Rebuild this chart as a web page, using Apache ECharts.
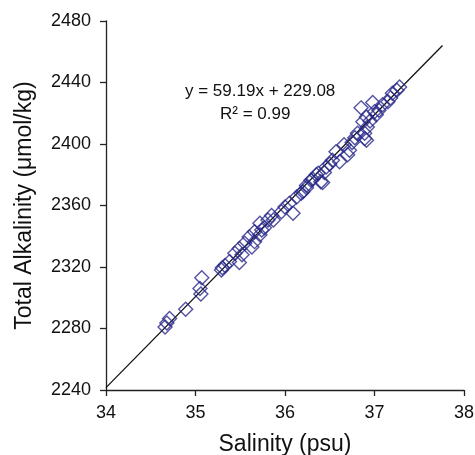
<!DOCTYPE html>
<html>
<head>
<meta charset="utf-8">
<script src="https://cdn.jsdelivr.net/npm/echarts@6/dist/echarts.min.js"></script>
<style>
  html, body { margin: 0; padding: 0; background: #fff; }
  #chart { width: 475px; height: 455px; }
</style>
</head>
<body>
<div id="chart"></div>
<script>
// Surface samples: salinity (psu) and total alkalinity (µmol/kg)
const salinity = [
  34.66, 34.68, 34.71, 34.89, 35.05, 35.06, 35.07, 35.29, 35.30, 35.33,
  35.38, 35.44, 35.49, 35.49, 35.52, 35.55, 35.60, 35.63, 35.66, 35.66,
  35.72, 35.72, 35.74, 35.77, 35.81, 35.85, 35.87, 35.96, 36.00, 36.05,
  36.09, 36.13, 36.18, 36.20, 36.24, 36.24, 36.29, 36.31, 36.35, 36.37,
  36.40, 36.42, 36.44, 36.46, 36.50, 36.53, 36.57, 36.61, 36.66, 36.70,
  36.72, 36.75, 36.78, 36.81, 36.85, 36.87, 36.89, 36.89, 36.91, 36.91,
  36.92, 36.95, 36.98, 37.00, 37.02, 37.05, 37.09, 37.15, 37.18, 37.20,
  37.25, 37.28
];
const alkalinity = [
  2281.0, 2283.5, 2286.5, 2292.5, 2306.0, 2302.5, 2313.0, 2318.0, 2319.5, 2321.0,
  2323.5, 2329.0, 2323.0, 2332.0, 2328.0, 2335.5, 2339.5, 2333.0, 2343.0, 2336.5,
  2341.0, 2348.5, 2344.0, 2345.5, 2350.5, 2353.5, 2350.5, 2356.0, 2359.0, 2361.5,
  2355.0, 2365.5, 2368.0, 2369.0, 2373.0, 2371.5, 2376.5, 2377.0, 2380.0, 2381.0,
  2375.5, 2375.0, 2381.5, 2385.0, 2387.0, 2389.5, 2395.0, 2388.5, 2399.5, 2393.0,
  2396.0, 2401.0, 2404.0, 2407.0, 2423.5, 2414.5, 2407.0, 2403.5, 2417.5, 2402.5,
  2411.0, 2415.0, 2427.0, 2421.0, 2419.0, 2422.0, 2425.5, 2427.5, 2430.0, 2433.0,
  2435.0, 2437.0
];

// Linear fit reported on the chart
const slope = 59.19;
const intercept = 229.08;
const rSquared = 0.99;
const fitRange = [34, 37.76];

const xTicks = [34, 35, 36, 37, 38];
const yTicks = [2240, 2280, 2320, 2360, 2400, 2440, 2480];

const points = salinity.map((s, i) => [s, alkalinity[i]]);
const fitLine = fitRange.map(s => [s, slope * s + intercept]);

const chart = echarts.init(document.getElementById('chart'), null, { renderer: 'canvas' });
const font = 'Liberation Sans, Arial, sans-serif';

chart.setOption({
  animation: false,
  backgroundColor: '#fff',
  grid: { left: 106, right: 11, top: 21, bottom: 65, containLabel: false, outerBoundsMode: 'none' },
  xAxis: {
    type: 'value',
    min: xTicks[0], max: xTicks[xTicks.length - 1], interval: 1,
    name: 'Salinity (psu)',
    nameLocation: 'middle',
    nameGap: 43,
    nameTextStyle: { fontFamily: font, fontSize: 23, color: '#111' },
    axisLine: { show: true, lineStyle: { color: '#222', width: 1.3 } },
    axisTick: { show: true, inside: false, length: 6, lineStyle: { color: '#222', width: 1.3 } },
    axisLabel: { fontFamily: font, fontSize: 18, color: '#111', margin: 14 },
    splitLine: { show: false }
  },
  yAxis: {
    type: 'value',
    min: yTicks[0], max: yTicks[yTicks.length - 1], interval: 40,
    name: 'Total Alkalinity (\u03bcmol/kg)',
    nameLocation: 'middle',
    nameGap: 70,
    nameRotate: 90,
    nameTextStyle: { fontFamily: font, fontSize: 23, color: '#111' },
    axisLine: { show: true, lineStyle: { color: '#222', width: 1.3 } },
    axisTick: { show: true, inside: false, length: 6, lineStyle: { color: '#222', width: 1.3 } },
    axisLabel: { fontFamily: font, fontSize: 18, color: '#111', margin: 15, formatter: v => String(v) },
    splitLine: { show: false }
  },
  series: [
    {
      type: 'line',
      data: fitLine,
      showSymbol: false,
      silent: true,
      lineStyle: { color: '#111', width: 1.3 },
      z: 1
    },
    {
      type: 'scatter',
      data: points,
      symbol: 'diamond',
      symbolSize: 14,
      itemStyle: { color: 'rgba(0,0,0,0)', borderColor: '#28288a', borderWidth: 1.4 },
      z: 2
    }
  ],
  graphic: [
    {
      type: 'text',
      left: 185, top: 83,
      style: { text: 'y = ' + slope.toFixed(2) + 'x + ' + intercept.toFixed(2), font: '17px ' + font, fill: '#111' }
    },
    {
      type: 'text',
      left: 220, top: 106,
      style: { text: 'R\u00b2 = ' + rSquared.toFixed(2), font: '17px ' + font, fill: '#111' }
    }
  ]
});
</script>
</body>
</html>
